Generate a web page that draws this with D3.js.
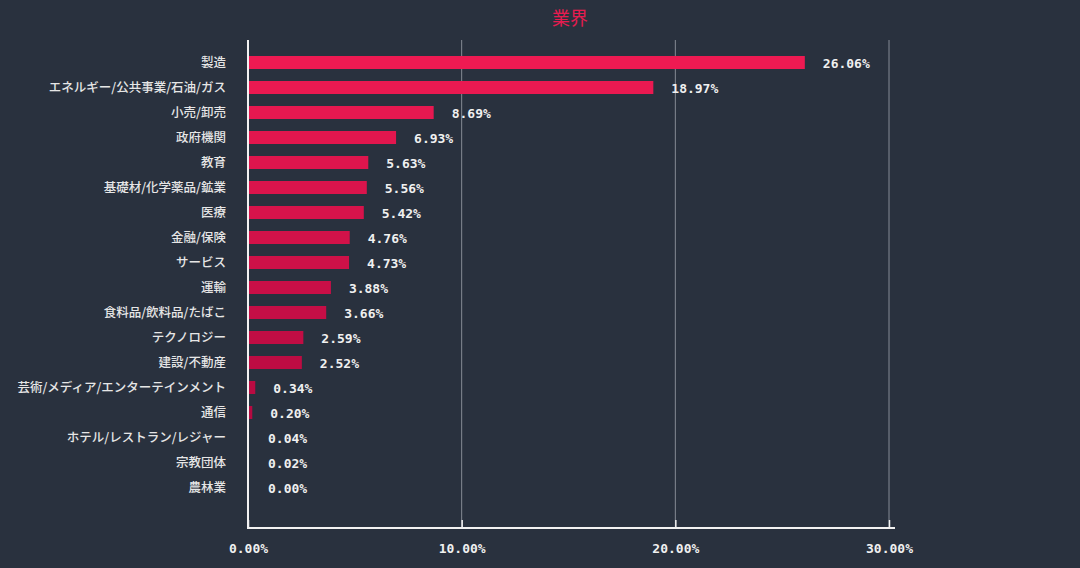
<!DOCTYPE html>
<html><head><meta charset="utf-8">
<script src="https://cdn.jsdelivr.net/npm/d3@7"></script>
<style>
html,body{margin:0;padding:0;background:#29313e;}
svg{display:block;}
</style></head>
<body>
<svg id="c" width="1080" height="568"></svg>
<script>
const categories = ["製造","エネルギー/公共事業/石油/ガス","小売/卸売","政府機関","教育","基礎材/化学薬品/鉱業","医療","金融/保険","サービス","運輸","食料品/飲料品/たばこ","テクノロジー","建設/不動産","芸術/メディア/エンターテインメント","通信","ホテル/レストラン/レジャー","宗教団体","農林業"];
const values = [26.06,18.97,8.69,6.93,5.63,5.56,5.42,4.76,4.73,3.88,3.66,2.59,2.52,0.34,0.20,0.04,0.02,0.00];
const xTicks = [0,10,20,30];
const title = "業界";

const svg = d3.select("#c");
svg.append("rect").attr("width",1080).attr("height",568).attr("fill","#29313e");

const x = d3.scaleLinear().domain([0,30]).range([248,889]);
const y = d3.scaleBand().domain(categories).range([50,500]).paddingInner(0.48).paddingOuter(0.24);
const color = d3.interpolateRgb("#ee1a52","#a9063d");

// gridlines
svg.append("g").selectAll("line").data(xTicks.slice(1)).join("line")
  .attr("x1",d=>x(d)).attr("x2",d=>x(d)).attr("y1",40).attr("y2",528)
  .attr("stroke","#858b95").attr("stroke-width",1);

// bars
svg.append("g").selectAll("rect").data(values).join("rect")
  .attr("x",x(0)).attr("y",(d,i)=>y(categories[i]))
  .attr("width",d=>x(d)-x(0)).attr("height",y.bandwidth())
  .attr("fill",(d,i)=>color(i/(categories.length-1)));

// value labels
svg.append("g").selectAll("text").data(values).join("text")
  .attr("x",d=>Math.max(268, x(d)+18))
  .attr("y",(d,i)=>y(categories[i])+y.bandwidth()/2+2)
  .attr("dominant-baseline","middle")
  .attr("fill","#f0f0f0").attr("font-family","DejaVu Sans Mono").attr("font-weight","bold").attr("font-size",13)
  .text(d=>d.toFixed(2)+"%");

// y axis
const yAxis = d3.axisLeft(y).tickSize(0).tickPadding(22);
const gy = svg.append("g").attr("transform",`translate(${x(0)},0)`).call(yAxis);
gy.select(".domain").remove();
gy.selectAll("text").attr("fill","#e6e6e6").attr("font-family","Noto Sans CJK JP").attr("font-size",12.5).attr("font-weight",500);
svg.append("line").attr("x1",x(0)).attr("x2",x(0)).attr("y1",40).attr("y2",529).attr("stroke","#f2f2f2").attr("stroke-width",2);

// x axis
const xAxis = d3.axisBottom(x).tickValues(xTicks).tickSize(-8).tickPadding(16).tickFormat(d=>d.toFixed(2)+"%");
const gx = svg.append("g").attr("transform","translate(0,528)").call(xAxis);
gx.select(".domain").remove();
gx.selectAll(".tick line").attr("stroke","#f2f2f2").attr("stroke-width",1.5);
gx.selectAll("text").attr("fill","#f0f0f0").attr("font-family","DejaVu Sans Mono").attr("font-weight","bold").attr("font-size",13);
svg.append("line").attr("x1",x(0)).attr("x2",895).attr("y1",528).attr("y2",528).attr("stroke","#f2f2f2").attr("stroke-width",2);

// title
svg.append("text").attr("x",570).attr("y",25).attr("text-anchor","middle")
  .attr("fill","#e61c50").attr("font-family","Noto Sans CJK JP").attr("font-size",18).text(title);
</script>
</body></html>
